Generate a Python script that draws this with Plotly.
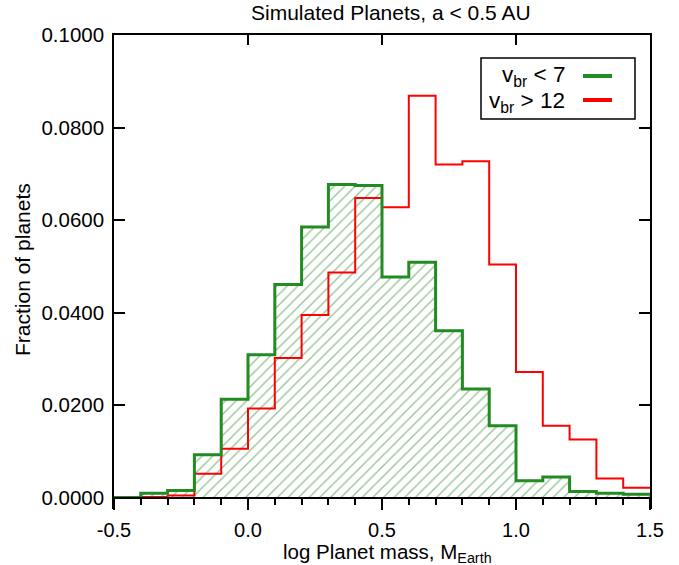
import plotly.graph_objects as go

# Histogram bins in log planet mass (Earth masses), width 0.1
bin_edges = [-0.5, -0.4, -0.3, -0.2, -0.1, 0.0, 0.1, 0.2, 0.3, 0.4, 0.5,
             0.6, 0.7, 0.8, 0.9, 1.0, 1.1, 1.2, 1.3, 1.4, 1.5]

# Fraction of planets per bin, v_br < 7
frac_low = [0.0001, 0.0010, 0.0016, 0.0093, 0.0213, 0.0309, 0.0461, 0.0585,
            0.0677, 0.0675, 0.0477, 0.0509, 0.0361, 0.0235, 0.0156, 0.0037,
            0.0045, 0.0014, 0.0010, 0.0008]

# Fraction of planets per bin, v_br > 12 (starts at -0.4)
red_edges = bin_edges[1:]
frac_high = [0.0002, 0.0005, 0.0052, 0.0106, 0.0193, 0.0302, 0.0395, 0.0487,
             0.0648, 0.0628, 0.0869, 0.0720, 0.0727, 0.0504, 0.0272, 0.0156,
             0.0126, 0.0042, 0.0022]

x_major = [-0.5, 0.0, 0.5, 1.0, 1.5]
x_major_text = ["-0.5", "0.0", "0.5", "1.0", "1.5"]
y_major = [0.0, 0.02, 0.04, 0.06, 0.08, 0.10]
y_major_text = ["0.0000", "0.0200", "0.0400", "0.0600", "0.0800", "0.1000"]

GREEN = "#228B22"
RED = "#FF0000"
FONT = "Liberation Sans, Arial, sans-serif"

W, H = 679, 565
L, R, T, B = 114, 29, 35, 56
PW, PH = W - L - R, H - T - B

# y range extends slightly below zero so the baseline ticks hang under it
yr = [-0.0024, 0.1]
x_axis_pos = (0 - yr[0]) / (yr[1] - yr[0])


def px_x(p):
    return (p - L) / PW


def px_y(p):
    return (H - B - p) / PH


def steps(vals):
    return vals + [vals[-1]]


fig = go.Figure()

# hatched fill for v_br < 7
fig.add_trace(go.Scatter(
    x=bin_edges, y=steps(frac_low), mode="lines", line_shape="hv",
    line=dict(width=0, color=GREEN), fill="tozeroy",
    fillcolor="rgba(0,0,0,0)",
    fillpattern=dict(shape="/", fgcolor=GREEN, bgcolor="rgba(0,0,0,0)",
                     size=7.5, solidity=0.18),
    hoverinfo="skip", showlegend=False))

# v_br > 12 outline
fig.add_trace(go.Scatter(
    x=red_edges, y=steps(frac_high), mode="lines", line_shape="hv",
    line=dict(width=2, color=RED), showlegend=False))

# v_br < 7 outline
fig.add_trace(go.Scatter(
    x=bin_edges, y=steps(frac_low), mode="lines", line_shape="hv",
    line=dict(width=3, color=GREEN), showlegend=False))

# empty trace to bring up the top axis
fig.add_trace(go.Scatter(x=[], y=[], xaxis="x2", showlegend=False))

y_tick_font = dict(family=FONT, size=20.5, color="black")
x_tick_font = dict(family=FONT, size=20, color="black")

fig.update_layout(
    width=W, height=H,
    margin=dict(l=L, r=R, t=T, b=B),
    paper_bgcolor="white", plot_bgcolor="white",
    showlegend=False,
    xaxis=dict(
        range=[-0.5, 1.5], anchor="free", position=x_axis_pos,
        showline=True, linecolor="black", linewidth=1.5,
        showgrid=False, zeroline=False,
        tickvals=x_major, ticktext=x_major_text,
        ticks="outside", ticklen=11, tickwidth=1.5, tickcolor="black",
        minor=dict(tickmode="linear", tick0=-0.5, dtick=0.1,
                   ticks="outside", ticklen=6, tickwidth=1.5,
                   tickcolor="black", showgrid=False),
        tickfont=x_tick_font, ticklabelstandoff=3,
    ),
    xaxis2=dict(
        range=[-0.5, 1.5], overlaying="x", side="top", anchor="y",
        showline=True, linecolor="black", linewidth=1.5,
        showgrid=False, zeroline=False, showticklabels=False,
        tickvals=x_major, ticks="inside", ticklen=10, tickwidth=1.5,
        tickcolor="black",
    ),
    yaxis=dict(
        range=yr, showline=True, linecolor="black", linewidth=1.5,
        mirror="ticks", showgrid=False, zeroline=False,
        tickvals=y_major, ticktext=y_major_text,
        ticks="inside", ticklen=11, tickwidth=1.5, tickcolor="black",
        tickfont=y_tick_font, ticklabelstandoff=4,
    ),
)

annotations = [
    dict(text="Simulated Planets, a &lt; 0.5 AU", x=px_x(391), y=px_y(12),
         font=dict(family=FONT, size=21, color="black")),
    dict(text="log Planet mass, M<sub>Earth</sub>", x=px_x(387), y=px_y(553),
         font=dict(family=FONT, size=20.5, color="black")),
    dict(text="Fraction of planets", x=px_x(22), y=px_y(270), textangle=-90,
         font=dict(family=FONT, size=21, color="black")),
    dict(text="v<sub>br</sub> &lt; 7", x=px_x(567), y=px_y(76),
         xanchor="right",
         font=dict(family=FONT, size=22.5, color="black")),
    dict(text="v<sub>br</sub> &gt; 12", x=px_x(567), y=px_y(102),
         xanchor="right",
         font=dict(family=FONT, size=22.5, color="black")),
]
for a in annotations:
    a.setdefault("xanchor", "center")
    a.update(xref="paper", yref="paper", yanchor="middle", showarrow=False)
fig.update_layout(annotations=annotations)

# legend frame and line samples
fig.add_shape(type="rect", xref="paper", yref="paper",
              x0=px_x(481), x1=px_x(635), y0=px_y(58), y1=px_y(119),
              line=dict(color="black", width=1.5), fillcolor="white", layer="above")
fig.add_shape(type="line", xref="paper", yref="paper",
              x0=px_x(583), x1=px_x(612), y0=px_y(76), y1=px_y(76),
              line=dict(color=GREEN, width=4), layer="above")
fig.add_shape(type="line", xref="paper", yref="paper",
              x0=px_x(583), x1=px_x(612), y0=px_y(100), y1=px_y(100),
              line=dict(color=RED, width=4), layer="above")

fig.write_html("out.html")
